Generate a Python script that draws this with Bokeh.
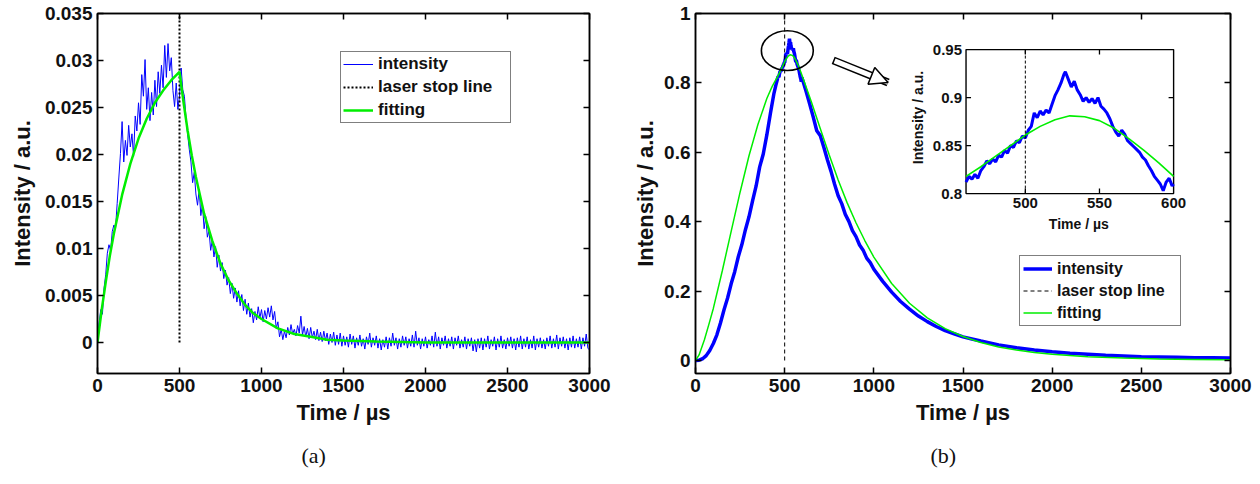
import numpy as np
from bokeh.plotting import figure
from bokeh.layouts import row
from bokeh.models import Range1d, LinearAxis, FixedTicker, Title, Arrow, NormalHead, NumeralTickFormatter
from bokeh.embed import file_html
from bokeh.resources import INLINE
from bokeh.core.properties import value

# ------------------------------------------------------------------ data
# panel (a): measured intensity every 10 us, 0..3000 us
time_a = list(range(0, 3001, 10))
intensity_a = [
    0.0000, 0.0021, 0.0035, 0.0030, 0.0058, 0.0072, 0.0095, 0.0104, 0.0098, 0.0118,
    0.0125, 0.0122, 0.0148, 0.0175, 0.0201, 0.0235, 0.0192, 0.0215, 0.0199, 0.0231,
    0.0208, 0.0222, 0.0198, 0.0241, 0.0225, 0.0255, 0.0232, 0.0285, 0.0262, 0.0301,
    0.0248, 0.0271, 0.0236, 0.0266, 0.0242, 0.0279, 0.0251, 0.0288, 0.0265, 0.0295,
    0.0271, 0.0316, 0.0282, 0.0318, 0.0289, 0.0303, 0.0268, 0.0251, 0.0276, 0.0248,
    0.0262, 0.0292, 0.0269, 0.0262, 0.0238, 0.0221, 0.0205, 0.0192, 0.0170, 0.0181,
    0.0158, 0.0146, 0.0163, 0.0135, 0.0147, 0.0121, 0.0134, 0.0112, 0.0119, 0.0098,
    0.0109, 0.0091, 0.0102, 0.0080, 0.0093, 0.0076, 0.0085, 0.0068, 0.0077, 0.0061,
    0.0069, 0.0052, 0.0063, 0.0047, 0.0058, 0.0043, 0.0055, 0.0039, 0.0051, 0.0034,
    0.0046, 0.0030, 0.0042, 0.0027, 0.0036, 0.0021, 0.0033, 0.0024, 0.0038, 0.0026,
    0.0035, 0.0022, 0.0034, 0.0025, 0.0037, 0.0027, 0.0039, 0.0024, 0.0033, 0.0015,
    0.0022, 0.0006, 0.0014, 0.0003, 0.0012, 0.0005, 0.0016, 0.0008, 0.0019, 0.0009,
    0.0014, 0.0007, 0.0018, 0.0010, 0.0028, 0.0008, 0.0017, 0.0006, 0.0015, 0.0004,
    0.0016, 0.0005, 0.0012, 0.0003, 0.0014, 0.0002, 0.0011, 0.0001, 0.0012, 0.0002,
    0.0010, -0.0002, 0.0009, 0.0000, 0.0011, -0.0003, 0.0008, -0.0002, 0.0010, -0.0004,
    0.0007, -0.0003, 0.0006, -0.0005, 0.0009, -0.0002, 0.0007, -0.0006, 0.0005, -0.0003,
    0.0008, -0.0004, 0.0004, -0.0007, 0.0006, -0.0002, 0.0010, -0.0005, 0.0005, -0.0003,
    0.0007, -0.0006, 0.0004, -0.0008, 0.0003, -0.0005, 0.0006, -0.0007, 0.0005, -0.0004,
    0.0010, -0.0003, 0.0005, -0.0007, 0.0004, -0.0005, 0.0007, -0.0003, 0.0006, -0.0006,
    0.0004, -0.0004, 0.0008, -0.0005, 0.0012, -0.0003, 0.0005, -0.0007, 0.0004, -0.0004,
    0.0006, -0.0006, 0.0003, -0.0003, 0.0007, -0.0005, 0.0011, -0.0004, 0.0006, -0.0007,
    0.0005, -0.0003, 0.0007, -0.0006, 0.0004, -0.0004, 0.0006, -0.0007, 0.0005, -0.0003,
    0.0007, -0.0006, 0.0003, -0.0005, 0.0006, -0.0007, 0.0004, -0.0004, 0.0005, -0.0009,
    0.0003, -0.0010, 0.0004, -0.0006, 0.0005, -0.0008, 0.0004, -0.0005, 0.0007, -0.0007,
    0.0003, -0.0004, 0.0006, -0.0008, 0.0004, -0.0005, 0.0007, -0.0006, 0.0003, -0.0007,
    0.0005, -0.0004, 0.0006, -0.0006, 0.0004, -0.0008, 0.0005, -0.0005, 0.0007, -0.0007,
    0.0004, -0.0005, 0.0006, -0.0007, 0.0003, -0.0006, 0.0007, -0.0008, 0.0004, -0.0005,
    0.0005, -0.0006, 0.0003, -0.0007, 0.0005, -0.0004, 0.0007, -0.0006, 0.0004, -0.0005,
    0.0008, -0.0007, 0.0005, -0.0004, 0.0006, -0.0006, 0.0004, -0.0008, 0.0005, -0.0005,
    0.0007, -0.0006, 0.0004, -0.0005, 0.0006, -0.0007, 0.0005, -0.0004, 0.0009, -0.0006,
    -0.0008,
]
fit_time_a = [0, 25, 50, 75, 100, 150, 200, 250, 300, 350, 400, 450, 500,
              525, 550, 575, 600, 650, 700, 750, 800, 850, 900, 950, 1000,
              1100, 1200, 1300, 1400, 1500, 1700, 2000, 2500, 3000]
fit_a = [0.0, 0.0034, 0.0064, 0.0092, 0.0116, 0.0157, 0.0190, 0.0217, 0.0238, 0.0255, 0.0268, 0.0279, 0.0288,
         0.0255, 0.0225, 0.0199, 0.0176, 0.0137, 0.0108, 0.0084, 0.0066, 0.0052, 0.0040, 0.0031, 0.0025,
         0.0015, 0.0009, 0.0006, 0.0003, 0.0002, 0.0001, 0.0, 0.0, 0.0]

# panel (b): measured intensity (fine sampling around the peak)
time_b = [0, 20, 40, 60, 80, 100, 120, 140, 160, 180, 200, 220, 240, 260, 280, 300,
          320, 340, 360, 380, 400, 420, 440, 450,
          460, 462, 464, 466, 468, 470, 472, 474, 476, 478, 480, 482, 484, 486, 488, 490,
          492, 494, 496, 498, 500, 502, 504, 506, 508, 510, 512, 514, 516, 518, 520, 522,
          524, 526, 527, 529, 531, 533, 535, 537, 539, 541, 543, 545, 547, 549, 551, 553,
          555, 557, 559, 561, 563, 565, 567, 569, 571, 573, 575, 577, 579, 581, 583, 585,
          587, 589, 591, 593, 595, 597, 599, 600,
          620, 640, 660, 680, 700, 720, 740, 760, 780, 800, 820, 840, 860, 880, 900, 920,
          940, 960, 980, 1000, 1050, 1100, 1150, 1200, 1250, 1300, 1350, 1400, 1450, 1500,
          1550, 1600, 1700, 1800, 1900, 2000, 2100, 2200, 2300, 2400, 2500, 2600, 2700,
          2800, 2900, 3000]
intensity_b = [0.000, 0.001, 0.005, 0.014, 0.029, 0.049, 0.074, 0.108, 0.146, 0.180, 0.221, 0.256,
               0.299, 0.334, 0.377, 0.414, 0.460, 0.503, 0.558, 0.595, 0.650, 0.712, 0.770, 0.792,
               0.812, 0.818, 0.815, 0.820, 0.816, 0.824, 0.828, 0.834, 0.831, 0.836, 0.833, 0.840,
               0.838, 0.845, 0.842, 0.850, 0.848, 0.855, 0.853, 0.860, 0.858, 0.866, 0.870, 0.884,
               0.879, 0.886, 0.882, 0.887, 0.884, 0.893, 0.902, 0.908, 0.915, 0.924, 0.927, 0.919,
               0.911, 0.917, 0.908, 0.903, 0.896, 0.900, 0.895, 0.899, 0.894, 0.900, 0.891, 0.888,
               0.884, 0.878, 0.870, 0.864, 0.860, 0.866, 0.862, 0.855, 0.852, 0.849, 0.846, 0.843,
               0.838, 0.835, 0.829, 0.824, 0.818, 0.814, 0.810, 0.803, 0.812, 0.816, 0.808, 0.810,
               0.776, 0.740, 0.702, 0.662, 0.648, 0.614, 0.578, 0.545, 0.508, 0.475, 0.452, 0.421,
               0.401, 0.374, 0.357, 0.333, 0.318, 0.295, 0.282, 0.263, 0.228, 0.197, 0.170, 0.148,
               0.128, 0.112, 0.098, 0.086, 0.077, 0.068, 0.062, 0.056, 0.045, 0.037, 0.030, 0.025,
               0.021, 0.018, 0.015, 0.013, 0.011, 0.010, 0.009, 0.008, 0.008, 0.007]
fit_time_b = [0, 20, 50, 75, 100, 150, 200, 250, 300, 350, 400, 430, 460, 470, 480, 490, 500,
              510, 520, 530, 540, 550, 560, 570, 580, 590, 600, 650, 700, 750, 800, 850, 900,
              950, 1000, 1100, 1200, 1300, 1400, 1500, 1600, 1700, 1800, 1900, 2000, 2200,
              2400, 2600, 2800, 3000]
fit_b = [0.000, 0.016, 0.060, 0.104, 0.150, 0.258, 0.372, 0.485, 0.590, 0.680, 0.755, 0.790,
         0.818, 0.828, 0.839, 0.850, 0.861, 0.870, 0.877, 0.881, 0.880, 0.876, 0.868, 0.857,
         0.845, 0.832, 0.818, 0.745, 0.668, 0.592, 0.520, 0.455, 0.397, 0.345, 0.298, 0.222,
         0.165, 0.123, 0.092, 0.069, 0.052, 0.039, 0.030, 0.023, 0.018, 0.011, 0.007, 0.004,
         0.003, 0.002]

laser_stop = 500

x_ticks = [0, 500, 1000, 1500, 2000, 2500, 3000]
x_tick_labels = ["0", "500", "1000", "1500", "2000", "2500", "3000"]
y_ticks_a = [0, 0.005, 0.01, 0.015, 0.02, 0.025, 0.03, 0.035]
y_tick_labels_a = ["0", "0.005", "0.01", "0.015", "0.02", "0.025", "0.03", "0.035"]
y_ticks_b = [0, 0.2, 0.4, 0.6, 0.8, 1]
y_tick_labels_b = ["0", "0.2", "0.4", "0.6", "0.8", "1"]
inset_x_ticks = [500, 550, 600]
inset_x_tick_labels = ["500", "550", "600"]
inset_y_ticks = [0.8, 0.85, 0.9, 0.95]
inset_y_tick_labels = ["0.8", "0.85", "0.9", "0.95"]
inset_x_lim = (460, 600)
inset_y_lim = (0.8, 0.95)

legend_labels = ["intensity", "laser stop line", "fitting"]
captions = ["(a)", "(b)"]

# ------------------------------------------------------------------ styles
BLUE = "#0000FF"
GREEN = "#00EE00"
FONT = "Liberation Sans"


def style(p, xt, xl, yt, yl):
    p.xgrid.visible = False
    p.ygrid.visible = False
    p.outline_line_color = "black"
    p.outline_line_width = 1.5
    p.background_fill_color = "white"
    p.border_fill_color = "white"
    ax_x = p.xaxis[0]
    ax_y = p.yaxis[0]
    ax_x.ticker = FixedTicker(ticks=xt)
    ax_x.major_label_overrides = dict(zip(xt, xl))
    ax_y.ticker = FixedTicker(ticks=yt)
    ax_y.formatter = NumeralTickFormatter(format="0.[000]")
    ax_y.major_label_overrides = dict(zip(yt, yl))
    for ax in (ax_x, ax_y):
        ax.major_tick_in = 6
        ax.major_tick_out = 0
        ax.minor_tick_line_color = None
        ax.axis_line_width = 1.5
        ax.major_tick_line_width = 1.5
        ax.major_label_text_font = FONT
        ax.major_label_text_font_style = "bold"
        ax.major_label_text_font_size = "19px"
        ax.major_label_text_color = "#111111"
        ax.axis_label_text_font = FONT
        ax.axis_label_text_font_style = "bold"
        ax.axis_label_text_font_size = "22px"
        ax.axis_label_text_color = "#111111"
        ax.major_label_standoff = 5
    ax_x.axis_label = "Time / µs"
    ax_y.axis_label = "Intensity / a.u."
    for t, loc in ((xt, "above"), (yt, "right")):
        ax = LinearAxis(ticker=FixedTicker(ticks=t),
                        major_label_overrides={v: "" for v in t},
                        major_label_text_font_size="1px", major_label_standoff=0,
                        major_tick_in=6, major_tick_out=0, minor_tick_line_color=None,
                        axis_line_width=1.5, major_tick_line_width=1.5)
        p.add_layout(ax, loc)
    return ax_x, ax_y


def style_legend(leg, loc, size, lh, sp, pad, gw, lw):
    leg.location = loc
    leg.margin = 0
    leg.padding = pad
    leg.spacing = sp
    leg.label_height = lh
    leg.glyph_height = lh
    leg.glyph_width = gw
    leg.label_standoff = 5
    leg.label_width = lw
    leg.label_text_font = FONT
    leg.label_text_font_style = "bold"
    leg.label_text_font_size = size
    leg.label_text_color = "#111111"
    leg.border_line_color = "black"
    leg.border_line_width = 1.2
    leg.background_fill_color = "white"
    leg.background_fill_alpha = 1.0


def caption(p, text, offset, standoff):
    p.add_layout(Title(text=text, align="left", offset=offset, standoff=standoff,
                       vertical_align="bottom",
                       text_font="Liberation Serif", text_font_size="22px",
                       text_font_style="normal", text_color="#111111"), "below")


# both frames share the same bottom edge (row alignment)
BOTTOM = 111

# ------------------------------------------------------------------ panel (a)
pA = figure(width=630, height=484, x_range=Range1d(0, 3000), y_range=Range1d(-0.0033, 0.035),
            output_backend="svg", toolbar_location=None,
            min_border_left=97, min_border_right=41, min_border_top=13, min_border_bottom=BOTTOM)
axA_x, axA_y = style(pA, x_ticks, x_tick_labels, y_ticks_a, y_tick_labels_a)
axA_y.axis_label_standoff = 7
pA.line(time_a, intensity_a, line_color=BLUE, line_width=1, legend_label=legend_labels[0])
pA.line([laser_stop, laser_stop], [0, y_ticks_a[-1]], line_color="black", line_width=2,
        line_dash="2 2", legend_label=legend_labels[1])
pA.line(fit_time_a, fit_a, line_color=GREEN, line_width=2.5, legend_label=legend_labels[2])
style_legend(pA.legend[0], (243, 250), "17px", 20, 3, 2, 30, 130)
caption(pA, captions[0], 204, 27)

# ------------------------------------------------------------------ panel (b)
pB = figure(width=630, height=484, x_range=Range1d(0, 3000), y_range=Range1d(-0.0375, 1.0),
            output_backend="svg", toolbar_location=None,
            min_border_left=64, min_border_right=30, min_border_top=13, min_border_bottom=BOTTOM)
axB_x, axB_y = style(pB, x_ticks, x_tick_labels, y_ticks_b, y_tick_labels_b)
axB_y.axis_label_standoff = 3
pB.line(time_b, intensity_b, line_color=BLUE, line_width=3.5, legend_label=legend_labels[0])
pB.line([laser_stop, laser_stop], [0, y_ticks_b[-1]], line_color="black", line_width=1,
        line_dash="4 3", legend_label=legend_labels[1])
pB.line(fit_time_b, fit_b, line_color=GREEN, line_width=1.5, legend_label=legend_labels[2])
style_legend(pB.legend[0], (324, 47), "16px", 19, 3, 3, 29, 120)
caption(pB, captions[1], 235, 27)

# zoom circle + hollow arrow (annotation shapes)
circle_center = (515, 0.893)
circle_size = (291, 0.115)
pB.ellipse(x=[circle_center[0]], y=[circle_center[1]], width=[circle_size[0]], height=[circle_size[1]],
           fill_alpha=0, line_color="black", line_width=1.6)
arrow_tail = (772, 0.865)
arrow_tail_inner = (780, 0.8634)
arrow_tip = (1080, 0.801)
pB.add_layout(Arrow(end=None, x_start=arrow_tail[0], y_start=arrow_tail[1],
                    x_end=arrow_tip[0], y_end=arrow_tip[1], line_width=8, line_color="black"))
pB.add_layout(Arrow(end=None, x_start=arrow_tail_inner[0], y_start=arrow_tail_inner[1],
                    x_end=arrow_tip[0], y_end=arrow_tip[1], line_width=5, line_color="white"))
pB.add_layout(Arrow(end=NormalHead(size=18, fill_color="white", line_color="black", line_width=1.5),
                    x_start=arrow_tail[0], y_start=arrow_tail[1],
                    x_end=arrow_tip[0], y_end=arrow_tip[1], line_alpha=0))

# ------------------------------------------------------------------ inset in panel (b)
inset_target_x = (1517, 2681)
inset_target_y = (0.481, 0.896)
sub = pB.subplot(x_source=Range1d(*inset_x_lim), y_source=Range1d(*inset_y_lim),
                 x_target=Range1d(*inset_target_x), y_target=Range1d(*inset_target_y))
sub.quad(left=[inset_x_lim[0]], right=[inset_x_lim[1]], bottom=[inset_y_lim[0]], top=[inset_y_lim[1]],
         fill_color="white", line_color="black", line_width=1.4)
sel = [i for i, t in enumerate(time_b) if inset_x_lim[0] <= t <= inset_x_lim[1]]
sub.line([time_b[i] for i in sel], [intensity_b[i] for i in sel], line_color=BLUE, line_width=3)
fsel = [i for i, t in enumerate(fit_time_b) if inset_x_lim[0] <= t <= inset_x_lim[1]]
sub.line([fit_time_b[i] for i in fsel], [fit_b[i] for i in fsel], line_color=GREEN, line_width=1.6)
sub.line([laser_stop, laser_stop], [inset_y_lim[0], inset_y_lim[1]], line_color="black",
         line_width=1, line_dash="3 2")
inner_x = [t for t in inset_x_ticks if inset_x_lim[0] < t < inset_x_lim[1]]
inner_y = [t for t in inset_y_ticks if inset_y_lim[0] < t < inset_y_lim[1]]
sub.ray(x=inner_x, y=[inset_y_lim[0]] * len(inner_x), length=5, length_units="screen",
        angle=np.pi / 2, line_color="black", line_width=1.3)
sub.ray(x=inner_x, y=[inset_y_lim[1]] * len(inner_x), length=5, length_units="screen",
        angle=-np.pi / 2, line_color="black", line_width=1.3)
sub.ray(x=[inset_x_lim[0]] * len(inner_y), y=inner_y, length=5, length_units="screen",
        angle=0, line_color="black", line_width=1.3)
sub.ray(x=[inset_x_lim[1]] * len(inner_y), y=inner_y, length=5, length_units="screen",
        angle=np.pi, line_color="black", line_width=1.3)
sub.text(x=inset_x_ticks, y=[inset_y_lim[0]] * len(inset_x_ticks), text=inset_x_tick_labels,
         text_font=value(FONT), text_font_style="bold", text_font_size="15px",
         text_align="center", text_baseline="top", y_offset=4, text_color="#111111")
sub.text(x=[inset_x_lim[0]] * len(inset_y_ticks), y=inset_y_ticks, text=inset_y_tick_labels,
         text_font=value(FONT), text_font_style="bold", text_font_size="15px",
         text_align="right", text_baseline="middle", x_offset=-4, text_color="#111111")
inset_mid_x = (inset_x_lim[0] + inset_x_lim[1]) / 2
inset_mid_y = (inset_y_lim[0] + inset_y_lim[1]) / 2
sub.text(x=[inset_mid_x], y=[inset_y_lim[0]], text=["Time / µs"],
         text_font=value(FONT), text_font_style="bold", text_font_size="14px",
         text_align="center", text_baseline="middle", x_offset=9, y_offset=30, text_color="#111111")
sub.text(x=[inset_x_lim[0]], y=[inset_mid_y], text=["Intensity / a.u."], angle=np.pi / 2,
         text_font=value(FONT), text_font_style="bold", text_font_size="14px",
         text_align="center", text_baseline="middle", x_offset=-48, y_offset=-4, text_color="#111111")

layout = row(pA, pB)
open("out.html", "w").write(file_html(layout, INLINE))
